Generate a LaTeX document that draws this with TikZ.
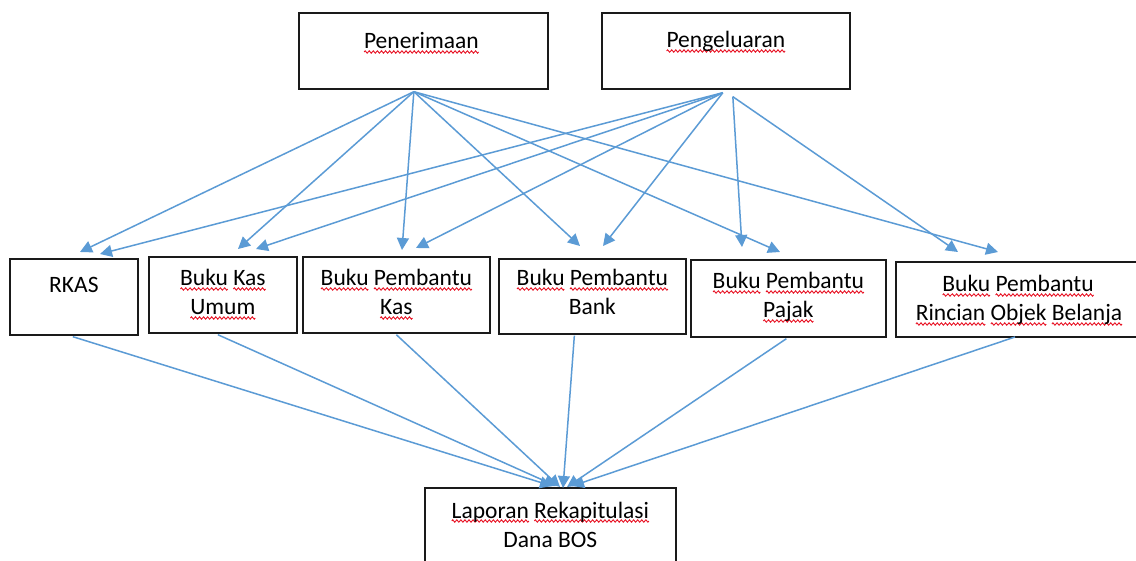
\documentclass[tikz,border=0pt]{standalone}
\usepackage{fontspec}
\setmainfont{Carlito}
\usetikzlibrary{arrows.meta,calc}
\definecolor{linkblue}{HTML}{5B9BD5}
\definecolor{squigred}{HTML}{E81123}
\definecolor{boxline}{HTML}{1A1A1A}

% red wavy underline for a single word, built from one repeated wave period
\newsavebox\wavebox
\newsavebox\wordbox
\newcommand\sq[1]{\sbox\wordbox{#1}\leavevmode\rlap{\raisebox{-4.5pt}{\hbox to \wd\wordbox{\xleaders\copy\wavebox\hfil}}}\usebox\wordbox}

\begin{document}
\sbox\wavebox{\begin{pgfpicture}%
  \pgfpathrectangle{\pgfpoint{0pt}{-1.5pt}}{\pgfpoint{4pt}{3pt}}%
  \pgfusepath{use as bounding box}%
  \pgfsetstrokecolor{squigred}%
  \pgfsetlinewidth{0.9pt}%
  \pgfpathmoveto{\pgfpoint{0pt}{0pt}}%
  \pgfpathsine{\pgfpoint{1pt}{1.2pt}}%
  \pgfpathcosine{\pgfpoint{1pt}{-1.2pt}}%
  \pgfpathsine{\pgfpoint{1pt}{-1.2pt}}%
  \pgfpathcosine{\pgfpoint{1pt}{1.2pt}}%
  \pgfusepath{stroke}%
\end{pgfpicture}}%
\begin{tikzpicture}[x=1pt,y=-1pt,
  box/.style={draw=boxline, line width=1.7pt, anchor=north west, inner sep=0pt, fill=white},
  lbl/.style={inner sep=0pt, anchor=base, font=\fontsize{23.5}{30}\selectfont},
  arr/.style={draw=linkblue, line width=1.5pt, -{Triangle[length=12pt,width=12pt]}}]

\useasboundingbox (0,0) rectangle (1136,561);
\clip (0,0) rectangle (1136,561);
\fill[white] (0,0) rectangle (1136,561);

% top boxes
\node[box, minimum width=249pt, minimum height=76pt] (pen)  at (298,12) {};
\node[box, minimum width=248pt, minimum height=76pt] (peng) at (601,12) {};
\node[lbl] (pen-t)  at ($(pen.north)+(-2,37)$)  {\sq{Penerimaan}};
\node[lbl] (peng-t) at ($(peng.north)+(0,36)$)  {\sq{Pengeluaran}};

% middle row
\node[box, minimum width=128pt, minimum height=76pt] (rkas)    at (9,258)   {};
\node[box, minimum width=148pt, minimum height=76pt] (bku)     at (148,256) {};
\node[box, minimum width=187pt, minimum height=76pt] (bpkas)   at (302,256) {};
\node[box, minimum width=187pt, minimum height=75pt] (bpbank)  at (498,258) {};
\node[box, minimum width=195pt, minimum height=77pt] (bppajak) at (690,259) {};
\node[box, minimum width=250pt, minimum height=75pt] (bpro)    at (895,261) {};

\node[lbl] (rkas-t)    at ($(rkas.north)+(0,35)$)    {RKAS};
\node[lbl] (bku-t1)    at ($(bku.north)+(0,30)$)     {\sq{Buku} \sq{Kas}};
\node[lbl] (bku-t2)    at ($(bku.north)+(0,59)$)     {\sq{Umum}};
\node[lbl] (bpkas-t1)  at ($(bpkas.north)+(0,30)$)   {\sq{Buku} \sq{Pembantu}};
\node[lbl] (bpkas-t2)  at ($(bpkas.north)+(0,59)$)   {\sq{Kas}};
\node[lbl] (bpbank-t1) at ($(bpbank.north)+(0,28)$)  {\sq{Buku} \sq{Pembantu}};
\node[lbl] (bpbank-t2) at ($(bpbank.north)+(0,57)$)  {Bank};
\node[lbl] (bppajak-t1) at ($(bppajak.north)+(0,30)$) {\sq{Buku} \sq{Pembantu}};
\node[lbl] (bppajak-t2) at ($(bppajak.north)+(0,59)$) {\sq{Pajak}};
\node[lbl] (bpro-t1)   at (1018,292) {\sq{Buku} \sq{Pembantu}};
\node[lbl] (bpro-t2)   at (1019,321) {\sq{Rincian} \sq{Objek} \sq{Belanja}};

% bottom box
\node[box, minimum width=251pt, minimum height=90pt] (lap) at (424,487) {};
\node[lbl] (lap-t1) at ($(lap.north)+(0,31)$) {\sq{Laporan} \sq{Rekapitulasi}};
\node[lbl] (lap-t2) at ($(lap.north)+(0,60)$) {Dana BOS};

% connector end points
\coordinate (penOut)  at ($(pen.south)+(-9.5,2)$);
\coordinate (pengOutA) at ($(peng.south)+(-3,3)$);
\coordinate (pengOutB) at ($(peng.south)+(7,7)$);

\coordinate (rkasInA)    at (80,252);
\coordinate (rkasInB)    at (100,254);
\coordinate (bkuInA)     at (238,249);
\coordinate (bkuInB)     at (256,249);
\coordinate (bpkasInA)   at (402,250);
\coordinate (bpkasInB)   at (416,248);
\coordinate (bpbankInA)  at (580,246);
\coordinate (bpbankInB)  at (603,246);
\coordinate (bppajakInA) at (780,252);
\coordinate (bppajakInB) at (742,247);
\coordinate (bproInA)    at (998,252);
\coordinate (bproInB)    at (958,252);
\coordinate (bproOut)    at (1015,337);

\coordinate (lapIn1) at (552,486);
\coordinate (lapIn2) at (556,486);
\coordinate (lapIn3) at (560,487);
\coordinate (lapIn4) at (563,488);
\coordinate (lapIn5) at (567,487);
\coordinate (lapIn6) at (572,486);

% Penerimaan to every book
\draw[arr] (penOut) -- (rkasInA);
\draw[arr] (penOut) -- (bkuInA);
\draw[arr] (penOut) -- (bpkasInA);
\draw[arr] (penOut) -- (bpbankInA);
\draw[arr] (penOut) -- (bppajakInA);
\draw[arr] (penOut) -- (bproInA);

% Pengeluaran to every book
\draw[arr] (pengOutA) -- (rkasInB);
\draw[arr] (pengOutA) -- (bkuInB);
\draw[arr] (pengOutA) -- (bpkasInB);
\draw[arr] (pengOutA) -- (bpbankInB);
\draw[arr] (pengOutB) -- (bppajakInB);
\draw[arr] (pengOutB) -- (bproInB);

% every book to the recapitulation report
\draw[arr] ($(rkas.south)+(-1,1)$)    -- (lapIn1);
\draw[arr] ($(bku.south)+(-5,1)$)     -- (lapIn2);
\draw[arr] ($(bpkas.south)+(0,1)$)    -- (lapIn3);
\draw[arr] ($(bpbank.south)+(-18,1)$) -- (lapIn4);
\draw[arr] ($(bppajak.south)+(-2,1)$) -- (lapIn5);
\draw[arr] (bproOut) -- (lapIn6);
\end{tikzpicture}
\end{document}
